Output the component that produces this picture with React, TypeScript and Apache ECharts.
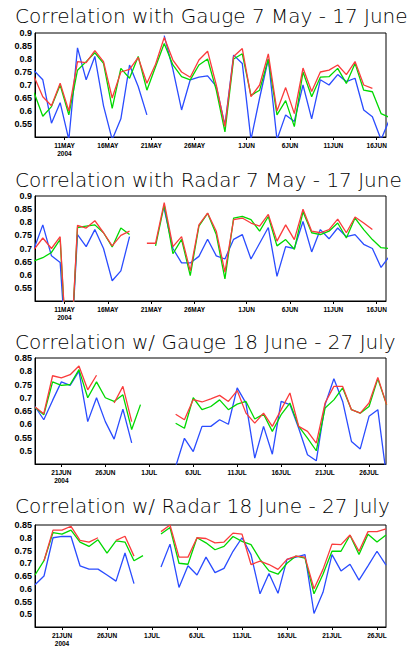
import React, { useEffect, useRef } from 'react';
import * as echarts from 'echarts';

// ---------- texts ----------
const panelTitles = [
  'Correlation with Gauge 7 May - 17 June',
  'Correlation with Radar 7 May - 17 June',
  'Correlation w/ Gauge 18 June - 27 July',
  'Correlation w/ Radar 18 June - 27 July',
];
const yearLabel = '2004';

// day numbers: May d -> d, June d -> 31 + d  (panels 1-2)
const mayJunTickDays = [11, 16, 21, 26, 32, 37, 42, 47];
const mayJunTickLabels = ['11MAY', '16MAY', '21MAY', '26MAY', '1JUN', '6JUN', '11JUN', '16JUN'];
// day numbers: June d -> d, July d -> 30 + d  (panels 3-4)
const junJulTickDays = [21, 26, 31, 36, 41, 46, 51, 56];
const junJulTickLabels = ['21JUN', '26JUN', '1JUL', '6JUL', '11JUL', '16JUL', '21JUL', '26JUL'];

// first sample day of each period (daily samples)
const mayJunFirstDay = 7.5; // 7 May
const junJulFirstDay = 18; // 18 June

// ---------- panel 1 : Gauge, 7 May - 17 June ----------
const p1Red = [0.732, 0.655, 0.62, 0.707, 0.60, 0.79, 0.786, 0.832, 0.79, 0.65,
  0.75, 0.76, 0.806, 0.707, 0.78, 0.883, 0.796, 0.75, 0.73, 0.796,
  0.83, 0.70, 0.54, 0.81, 0.84, 0.655, 0.70, 0.82, 0.60, 0.69,
  0.59, 0.765, 0.675, 0.75, 0.757, 0.777, 0.74, 0.79, 0.70, 0.687,
  null, null];
const p1Green = [0.67, 0.58, 0.617, 0.70, 0.585, 0.757, 0.79, 0.824, 0.783, 0.61,
  0.764, 0.726, 0.81, 0.68, 0.77, 0.86, 0.777, 0.732, 0.72, 0.777,
  0.80, 0.68, 0.52, 0.80, 0.82, 0.66, 0.68, 0.80, 0.585, 0.64,
  0.54, 0.75, 0.655, 0.73, 0.732, 0.764, 0.706, 0.783, 0.68, 0.674,
  0.59, 0.575];
const p1Blue = [0.755, 0.72, 0.553, 0.632, 0.49, 0.843, 0.72, 0.81, 0.62, 0.49,
  0.57, 0.777, 0.694, 0.585, null, 0.89, 0.76, 0.604, 0.72, 0.73,
  0.735, 0.695, 0.546, 0.815, 0.783, 0.49, 0.65, 0.80, 0.49, 0.585,
  0.56, 0.70, 0.57, 0.72, 0.70, 0.74, 0.713, 0.726, 0.604, 0.578,
  0.49, 0.57];

// ---------- panel 2 : Radar, 7 May - 17 June ----------
const p2Red = [0.697, 0.74, 0.70, 0.745, 0.15, 0.788, 0.778, 0.806, 0.76, 0.71,
  0.75, 0.766, null, 0.72, 0.72, 0.875, 0.707, 0.745, 0.615, 0.79,
  0.835, 0.766, 0.61, 0.81, 0.816, 0.797, 0.785, 0.83, 0.728, 0.79,
  0.734, 0.85, 0.766, 0.76, 0.772, 0.812, 0.76, 0.82, 0.797, 0.772,
  null, null];
const p2Green = [0.653, 0.665, 0.685, 0.735, 0.15, 0.78, 0.785, 0.79, 0.76, 0.706,
  0.778, 0.753, null, null, 0.71, 0.866, 0.68, 0.735, 0.597, 0.785,
  0.834, 0.753, 0.584, 0.816, 0.822, 0.81, 0.766, 0.822, 0.71, 0.734,
  0.697, 0.84, 0.76, 0.753, 0.766, 0.797, 0.74, 0.816, 0.772, 0.734,
  0.703, 0.70];
const p2Blue = [0.70, 0.79, 0.672, 0.647, 0.15, 0.753, 0.707, 0.772, 0.70, 0.577,
  0.615, 0.745, null, null, null, 0.85, 0.70, 0.645, 0.645, 0.67,
  0.735, 0.672, 0.66, 0.735, 0.753, 0.66, 0.72, 0.78, 0.594, 0.707,
  0.70, 0.803, 0.687, 0.772, 0.737, 0.778, 0.745, 0.753, 0.716, 0.70,
  0.628, 0.672];

// ---------- panel 3 : Gauge, 18 June - 27 July ----------
const p3Red = [0.665, 0.64, 0.783, 0.775, 0.787, 0.82, 0.73, 0.785, null, 0.68,
  0.743, 0.61, null, null, null, null, 0.638, 0.617, 0.693, 0.684,
  0.696, 0.709, 0.686, 0.727, 0.642, 0.604, 0.642, 0.592, 0.655, 0.718,
  0.592, 0.573, 0.529, 0.68, 0.743, 0.743, 0.655, 0.642, 0.68, 0.777,
  0.674];
const p3Green = [0.664, 0.636, 0.76, 0.747, 0.75, 0.806, 0.70, 0.76, 0.70, 0.686,
  0.711, 0.58, 0.674, null, null, null, 0.604, 0.585, 0.70, 0.655,
  0.667, 0.692, 0.655, 0.676, 0.686, 0.62, 0.638, 0.573, 0.636, 0.68,
  0.592, 0.548, 0.50, 0.661, 0.692, 0.737, 0.655, 0.642, 0.667, 0.772,
  0.674];
const p3Blue = [0.667, 0.617, 0.69, 0.76, 0.747, 0.80, 0.61, 0.70, 0.61, 0.544,
  0.657, 0.53, null, null, null, null, 0.44, 0.547, 0.497, 0.592,
  0.592, 0.617, 0.60, 0.737, 0.68, 0.472, 0.592, 0.487, 0.686, 0.674,
  0.585, 0.485, 0.462, 0.674, 0.772, 0.686, 0.535, 0.507, 0.63, 0.655,
  0.40];

// ---------- panel 4 : Radar, 18 June - 27 July ----------
const p4Red = [null, 0.71, 0.83, 0.83, 0.845, 0.79, 0.783, 0.80, null, 0.79,
  0.806, 0.728, null, null, 0.824, 0.85, 0.724, 0.724, 0.80, 0.797,
  0.78, 0.783, 0.818, 0.814, 0.695, 0.708, 0.695, 0.676, 0.715, 0.728,
  0.724, 0.60, 0.676, 0.775, 0.773, 0.811, 0.747, 0.824, 0.824, 0.835];
const p4Green = [0.654, 0.71, 0.82, 0.814, 0.83, 0.783, 0.766, 0.792, 0.74, 0.788,
  0.783, 0.71, 0.73, null, 0.815, 0.84, 0.70, 0.696, 0.80, 0.78,
  0.753, 0.766, 0.805, 0.786, 0.773, 0.715, 0.67, 0.657, 0.70, 0.728,
  0.72, 0.58, 0.657, 0.747, 0.747, 0.81, 0.734, 0.814, 0.783, 0.811];
const p4Blue = [0.616, 0.65, 0.80, 0.805, 0.805, 0.69, 0.677, 0.677, 0.654, 0.63,
  0.74, 0.62, null, null, 0.685, 0.775, 0.605, 0.69, 0.654, 0.724,
  0.663, 0.68, 0.747, 0.80, 0.734, 0.58, 0.66, 0.582, 0.715, 0.724,
  0.734, 0.503, 0.586, 0.734, 0.67, 0.696, 0.634, 0.69, 0.747, 0.693];

const RED = '#fa3c3c';
const GREEN = '#00d800';
const BLUE = '#2a4cff';

type Panel = {
  top: number; height: number; titleY: number;
  xMin: number; xMax: number; yMin: number; yMax: number;
  first: number; tickDays: number[]; tickLabels: string[];
  red: (number | null)[]; green: (number | null)[]; blue: (number | null)[];
};

const panels: Panel[] = [
  { top: 33, height: 104, titleY: 16, xMin: 7.6, xMax: 48.07, yMin: 0.5, yMax: 0.9,
    first: mayJunFirstDay, tickDays: mayJunTickDays, tickLabels: mayJunTickLabels,
    red: p1Red, green: p1Green, blue: p1Blue },
  { top: 196, height: 105, titleY: 180, xMin: 7.6, xMax: 48.07, yMin: 0.5, yMax: 0.9,
    first: mayJunFirstDay, tickDays: mayJunTickDays, tickLabels: mayJunTickLabels,
    red: p2Red, green: p2Green, blue: p2Blue },
  { top: 358, height: 106, titleY: 342, xMin: 18, xMax: 57.93, yMin: 0.45, yMax: 0.85,
    first: junJulFirstDay, tickDays: junJulTickDays, tickLabels: junJulTickLabels,
    red: p3Red, green: p3Green, blue: p3Blue },
  { top: 525, height: 103, titleY: 506, xMin: 18, xMax: 57.0, yMin: 0.45, yMax: 0.85,
    first: junJulFirstDay, tickDays: junJulTickDays, tickLabels: junJulTickLabels,
    red: p4Red, green: p4Green, blue: p4Blue },
];

function toPoints(first: number, vals: (number | null)[]) {
  return vals.map((v, i) => [first + i, v === null ? '-' : v]);
}

export default function App() {
  const ref = useRef<HTMLDivElement>(null);
  useEffect(() => {
    if (!ref.current) return;
    const chart = echarts.init(ref.current, undefined, { renderer: 'svg' });
    const grid: any[] = [];
    const xAxis: any[] = [];
    const yAxis: any[] = [];
    const series: any[] = [];
    const graphic: any[] = [];
    panels.forEach((p, gi) => {
      grid.push({ left: 35, top: p.top, width: 351, height: p.height, show: true,
        borderColor: '#000', borderWidth: 1, backgroundColor: 'transparent' });
      xAxis.push({
        type: 'value', gridIndex: gi, min: p.xMin, max: p.xMax,
        axisLine: { show: true, onZero: false, lineStyle: { color: '#000', width: 1 } },
        axisTick: { show: true, customValues: p.tickDays, length: 3, lineStyle: { color: '#000' } },
        axisLabel: {
          customValues: p.tickDays,
          formatter: (v: number) => {
            const idx = p.tickDays.findIndex((d) => Math.abs(d - v) < 0.01);
            if (idx < 0) return '';
            return idx === 0 ? p.tickLabels[idx] + '\n' + yearLabel : p.tickLabels[idx];
          },
          color: '#000', fontSize: 6.5, fontWeight: 'bold', fontFamily: 'Liberation Sans',
          margin: 4, lineHeight: 8,
        },
        splitLine: { show: false },
      });
      yAxis.push({
        type: 'value', gridIndex: gi, min: p.yMin, max: p.yMax, interval: 0.05,
        axisLine: { show: true, onZero: false, lineStyle: { color: '#000', width: 1 } },
        axisTick: { show: false },
        axisLabel: {
          showMinLabel: false,
          formatter: (v: number) => String(Math.round(v * 100) / 100),
          color: '#000', fontSize: 9, fontWeight: 'bold', fontFamily: 'Liberation Sans', margin: 3,
        },
        splitLine: { show: false },
      });
      const mk = (name: string, vals: (number | null)[], color: string) => ({
        type: 'line', name, xAxisIndex: gi, yAxisIndex: gi,
        data: toPoints(p.first, vals), showSymbol: false, symbol: 'none',
        connectNulls: false, clip: true,
        lineStyle: { color, width: 1.3 }, itemStyle: { color },
      });
      series.push(mk('Blue', p.blue, BLUE));
      series.push(mk('Green', p.green, GREEN));
      series.push(mk('Red', p.red, RED));
      graphic.push({
        type: 'text', x: 15, y: p.titleY,
        style: { text: panelTitles[gi], fontSize: 20, fontWeight: 200, fontFamily: 'DejaVu Sans', fill: '#000',
          verticalAlign: 'middle', align: 'left' },
      });
    });
    chart.setOption({
      animation: false,
      backgroundColor: '#fff',
      grid, xAxis, yAxis, series, graphic,
    });
    return () => chart.dispose();
  }, []);
  return (
    <div ref={ref} style={{ position: 'fixed', left: 0, top: 0, width: 407, height: 647 }} />
  );
}
